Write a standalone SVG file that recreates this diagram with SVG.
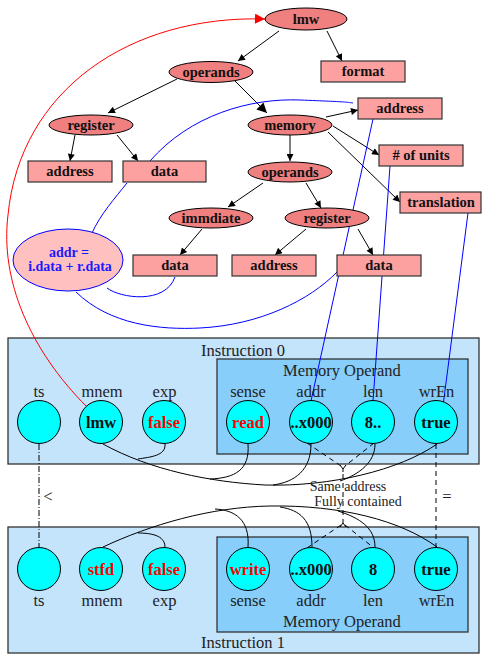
<svg xmlns="http://www.w3.org/2000/svg" width="482" height="656" viewBox="0 0 482 656">
<defs>
<marker id="ah" viewBox="0 0 10 10" refX="10" refY="5" markerWidth="9" markerHeight="7" markerUnits="userSpaceOnUse" orient="auto"><path d="M0,0 L10,5 L0,10 z" fill="#000"/></marker>
<marker id="ahbig" viewBox="0 0 10 10" refX="10" refY="5" markerWidth="14" markerHeight="10" markerUnits="userSpaceOnUse" orient="auto"><path d="M0,0 L10,5 L0,10 z" fill="#000"/></marker>
<marker id="ahred" viewBox="0 0 10 10" refX="10" refY="5" markerWidth="12" markerHeight="10" markerUnits="userSpaceOnUse" orient="auto"><path d="M0,0 L10,5 L0,10 z" fill="#f00"/></marker>
</defs>
<style>
.ell{fill:#f08080;stroke:#000;stroke-width:1}
.box{fill:#fda0a0;stroke:#333;stroke-width:1.2}
.t{font-family:"Liberation Serif","Times New Roman",serif;font-weight:bold;font-size:14.5px;text-anchor:middle;fill:#111}
.bt{font-family:"Liberation Serif","Times New Roman",serif;font-weight:bold;font-size:14px;text-anchor:middle;fill:#1a1aff}
.lbl{font-family:"Liberation Serif","Times New Roman",serif;font-size:16.5px;text-anchor:middle;fill:#222}
.ct{font-family:"Liberation Serif","Times New Roman",serif;font-weight:bold;font-size:16.5px;text-anchor:middle;fill:#111}
.red{fill:#f00}
.circ{fill:#00ffff;stroke:#000;stroke-width:1}
.outer{fill:#c4e4fc;stroke:#333;stroke-width:1.3}
.inner{fill:#87cefa;stroke:#333;stroke-width:1.3}
.e{fill:none;stroke:#000;stroke-width:1}
.b{fill:none;stroke:#00f;stroke-width:1}
.d{fill:none;stroke:#000;stroke-width:1;stroke-dasharray:5,4}
.sm{font-family:"Liberation Serif","Times New Roman",serif;font-size:14px;text-anchor:middle;fill:#222}
</style>
<rect width="482" height="656" fill="#fff"/>

<g id="instruction0">
<rect class="outer" x="8" y="338" width="471" height="126"/>
<text class="lbl" x="243" y="356">Instruction 0</text>
<rect class="inner" x="217" y="359" width="251" height="95"/>
<text class="lbl" x="342" y="376">Memory Operand</text>
</g>
<g id="instruction1">
<rect class="outer" x="8" y="527" width="471" height="126"/>
<text class="lbl" x="243" y="648">Instruction 1</text>
<rect class="inner" x="217" y="537" width="251" height="95"/>
<text class="lbl" x="342" y="627">Memory Operand</text>
</g>

<g id="connectors">
<line class="e" x1="279" y1="31" x2="238" y2="61" marker-end="url(#ah)"/>
<line class="e" x1="327" y1="31" x2="342" y2="61" marker-end="url(#ah)"/>
<line class="e" x1="177" y1="79" x2="108" y2="113" marker-end="url(#ah)"/>
<line class="e" x1="233" y1="79" x2="267" y2="113" marker-end="url(#ahbig)"/>
<line class="e" x1="75" y1="135" x2="70" y2="161" marker-end="url(#ah)"/>
<line class="e" x1="117" y1="135" x2="138" y2="161" marker-end="url(#ah)"/>
<line class="e" x1="326" y1="117" x2="358" y2="110" marker-end="url(#ah)"/>
<line class="e" x1="333" y1="126" x2="379" y2="155" marker-end="url(#ah)"/>
<line class="e" x1="328" y1="132" x2="400" y2="202" marker-end="url(#ah)"/>
<line class="e" x1="290" y1="135" x2="290" y2="161" marker-end="url(#ah)"/>
<line class="e" x1="263" y1="183" x2="228" y2="207" marker-end="url(#ah)"/>
<line class="e" x1="306" y1="183" x2="321" y2="208" marker-end="url(#ah)"/>
<line class="e" x1="202" y1="229" x2="180" y2="255" marker-end="url(#ah)"/>
<line class="e" x1="306" y1="229" x2="275" y2="255" marker-end="url(#ah)"/>
<line class="e" x1="358" y1="229" x2="373" y2="255" marker-end="url(#ah)"/>

<path fill="none" stroke="#f00" stroke-width="1" d="M87,407 C 30,350 0,280 8,215 C 20,90 130,15 265,19" marker-end="url(#ahred)"/>

<path class="b" d="M150,161 C 190,115 250,98 300,100 S 345,102 353,103"/>
<path class="b" d="M127,183 C 115,198 100,215 92,233"/>
<path class="b" d="M107,288 C 120,298 165,305 175,277"/>
<path class="b" d="M76,292 C 110,325 160,330 200,328 C 260,325 310,300 337,272"/>
<line class="b" x1="373" y1="119" x2="311" y2="401"/>
<line class="b" x1="390" y1="166" x2="373" y2="401"/>
<line class="b" x1="468" y1="213" x2="443" y2="406"/>

<path class="e" d="M103,444 C 150,470 210,482 265,485 C 330,487 400,470 437,444"/>
<path class="e" d="M165,444 C 166,456 150,457 138,459"/>
<path class="e" d="M248,444 C 250,470 235,478 210,479"/>
<path class="e" d="M311,444 C 311,470 295,482 273,485"/>
<path class="e" d="M375,444 C 375,462 360,474 340,481"/>

<path class="e" d="M103,547 C 150,525 210,507 270,506 C 340,505 400,520 437,547"/>
<path class="e" d="M165,547 C 165,535 150,533 138,533"/>
<path class="e" d="M248,547 C 250,520 235,510 215,509"/>
<path class="e" d="M312,547 C 312,520 300,510 280,507"/>
<path class="e" d="M375,547 C 375,528 360,518 338,511"/>

<path class="d" d="M307,443 L341,466"/>
<path class="d" d="M374,443 L345,466"/>
<path class="e" d="M340,465 L343,469 L346,465 M343,469 L343,472"/>
<line class="d" x1="343" y1="474" x2="343" y2="520"/>
<path class="e" d="M343,520 L343,523 M340,527 L343,523 L346,527"/>
<path class="d" d="M341,525 L307,548"/>
<path class="d" d="M345,525 L374,548"/>
<line stroke="#000" stroke-width="1" stroke-dasharray="6,2,1,2" x1="39" y1="444" x2="39" y2="548"/>
<line class="d" x1="436" y1="444" x2="436" y2="548"/>
<text class="sm" x="348" y="491">Same address</text>
<text class="sm" x="358" y="506">Fully contained</text>
<text class="lbl" x="48" y="502">&lt;</text>
<text class="lbl" x="447" y="502">=</text>
</g>

<g id="lmw"><ellipse class="ell" cx="306" cy="19" rx="41" ry="11"/><text class="t" x="306" y="24">lmw</text></g>
<g id="operands1"><ellipse class="ell" cx="211" cy="72" rx="42" ry="10.5"/><text class="t" x="211" y="77">operands</text></g>
<g id="format"><rect class="box" x="321" y="61" width="84" height="21"/><text class="t" x="363" y="76">format</text></g>
<g id="register1"><ellipse class="ell" cx="91" cy="125" rx="42" ry="10"/><text class="t" x="91" y="130">register</text></g>
<g id="memory"><ellipse class="ell" cx="290" cy="125" rx="42" ry="10"/><text class="t" x="290" y="130">memory</text></g>
<g id="address_top"><rect class="box" x="358" y="98" width="84" height="21"/><text class="t" x="400" y="113">address</text></g>
<g id="address1"><rect class="box" x="28" y="161" width="84" height="21"/><text class="t" x="70" y="176">address</text></g>
<g id="data1"><rect class="box" x="123" y="161" width="83" height="21"/><text class="t" x="164.5" y="176">data</text></g>
<g id="operands2"><ellipse class="ell" cx="290" cy="172" rx="42" ry="10"/><text class="t" x="290" y="177">operands</text></g>
<g id="units"><rect class="box" x="379" y="145" width="84" height="21"/><text class="t" x="421" y="160"># of units</text></g>
<g id="translation"><rect class="box" x="400" y="192" width="81" height="21"/><text class="t" x="441" y="207">translation</text></g>
<g id="immdiate"><ellipse class="ell" cx="211" cy="218" rx="42" ry="10"/><text class="t" x="211" y="223">immdiate</text></g>
<g id="register2"><ellipse class="ell" cx="327" cy="218" rx="42" ry="10"/><text class="t" x="327" y="223">register</text></g>
<g id="data2"><rect class="box" x="133" y="255" width="84" height="21"/><text class="t" x="175" y="270">data</text></g>
<g id="address2"><rect class="box" x="232" y="255" width="84" height="21"/><text class="t" x="274" y="270">address</text></g>
<g id="data3"><rect class="box" x="337" y="255" width="84" height="21"/><text class="t" x="379" y="270">data</text></g>
<g id="addr_expr"><ellipse cx="68" cy="260" rx="55" ry="31" fill="#ffc0c0" stroke="#00f" stroke-width="1"/><text class="bt" x="69" y="257">addr =</text><text class="bt" x="70" y="271">i.data + r.data</text></g>

<g id="i0_ts"><text class="lbl" x="39" y="397">ts</text><circle class="circ" cx="39" cy="422" r="21.5"/></g>
<g id="i0_mnem"><text class="lbl" x="102" y="397">mnem</text><circle class="circ" cx="101" cy="422" r="21.5"/><text class="ct" x="101" y="428">lmw</text></g>
<g id="i0_exp"><text class="lbl" x="164.5" y="397">exp</text><circle class="circ" cx="164" cy="422" r="21.5"/><text class="ct red" x="164" y="428">false</text></g>
<g id="i0_sense"><text class="lbl" x="248" y="397">sense</text><circle class="circ" cx="248" cy="422" r="21.5"/><text class="ct red" x="248" y="428">read</text></g>
<g id="i0_addr"><text class="lbl" x="311" y="397">addr</text><circle class="circ" cx="311" cy="422" r="21.5"/><text class="ct" x="311" y="428">..x000</text></g>
<g id="i0_len"><text class="lbl" x="373" y="397">len</text><circle class="circ" cx="373" cy="422" r="21.5"/><text class="ct" x="373" y="428">8..</text></g>
<g id="i0_wren"><text class="lbl" x="436.5" y="397">wrEn</text><circle class="circ" cx="436" cy="422" r="21.5"/><text class="ct" x="436" y="428">true</text></g>

<g id="i1_ts"><circle class="circ" cx="39" cy="569" r="21.5"/><text class="lbl" x="39" y="606">ts</text></g>
<g id="i1_mnem"><circle class="circ" cx="101" cy="569" r="21.5"/><text class="ct red" x="101" y="575">stfd</text><text class="lbl" x="102" y="606">mnem</text></g>
<g id="i1_exp"><circle class="circ" cx="164" cy="569" r="21.5"/><text class="ct red" x="164" y="575">false</text><text class="lbl" x="164.5" y="606">exp</text></g>
<g id="i1_sense"><circle class="circ" cx="248" cy="569" r="21.5"/><text class="ct red" x="248" y="575">write</text><text class="lbl" x="248" y="606">sense</text></g>
<g id="i1_addr"><circle class="circ" cx="311" cy="569" r="21.5"/><text class="ct" x="311" y="575">..x000</text><text class="lbl" x="311" y="606">addr</text></g>
<g id="i1_len"><circle class="circ" cx="373" cy="569" r="21.5"/><text class="ct" x="373" y="575">8</text><text class="lbl" x="373" y="606">len</text></g>
<g id="i1_wren"><circle class="circ" cx="436" cy="569" r="21.5"/><text class="ct" x="436" y="575">true</text><text class="lbl" x="436.5" y="606">wrEn</text></g>
</svg>
